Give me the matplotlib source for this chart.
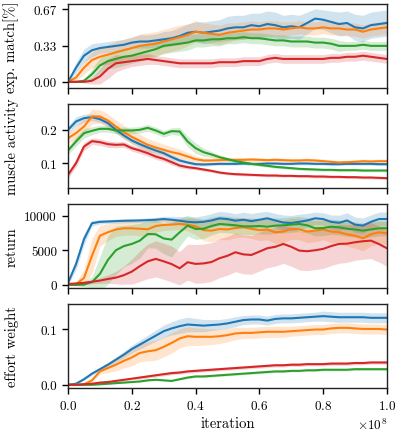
import numpy as np
import matplotlib
matplotlib.use('Agg')
import matplotlib.pyplot as plt

plt.rcParams['font.family'] = 'cmr10'
plt.rcParams['mathtext.fontset'] = 'cm'
plt.rcParams['axes.formatter.use_mathtext'] = True
plt.rcParams['font.size'] = 10.5
plt.rcParams['axes.unicode_minus'] = False

# iteration (x 1e8)
iters = np.linspace(0, 1e8, 41)

# exp. match
match_blue = [0.0, 0.13, 0.24, 0.29, 0.31, 0.32, 0.33, 0.34, 0.36, 0.37, 0.37, 0.38, 0.39, 0.40, 0.42, 0.45, 0.46, 0.45, 0.46, 0.47, 0.49,
              0.50, 0.50, 0.52, 0.51, 0.53, 0.52, 0.50, 0.51, 0.50, 0.54, 0.58, 0.57, 0.55, 0.53, 0.54, 0.50, 0.49, 0.52, 0.53, 0.54]
match_orange = [0.0, 0.04, 0.13, 0.20, 0.23, 0.25, 0.27, 0.29, 0.31, 0.33, 0.34, 0.35, 0.37, 0.39, 0.41, 0.43, 0.46, 0.45, 0.44, 0.43, 0.45,
                0.46, 0.47, 0.48, 0.48, 0.49, 0.49, 0.48, 0.49, 0.50, 0.49, 0.49, 0.50, 0.49, 0.49, 0.48, 0.48, 0.46, 0.48, 0.49, 0.50]
match_green = [0.0, 0.0, 0.01, 0.07, 0.15, 0.19, 0.21, 0.23, 0.24, 0.26, 0.28, 0.30, 0.33, 0.34, 0.35, 0.36, 0.38, 0.38, 0.39, 0.39, 0.40,
               0.40, 0.41, 0.40, 0.40, 0.39, 0.38, 0.38, 0.37, 0.37, 0.37, 0.36, 0.36, 0.35, 0.33, 0.33, 0.33, 0.34, 0.33, 0.33, 0.33]
match_red = [0.0, 0.0, 0.0, 0.01, 0.05, 0.12, 0.17, 0.18, 0.19, 0.20, 0.21, 0.20, 0.19, 0.18, 0.17, 0.17, 0.17, 0.17, 0.17, 0.18, 0.18,
             0.18, 0.19, 0.19, 0.19, 0.21, 0.22, 0.21, 0.21, 0.21, 0.21, 0.21, 0.21, 0.22, 0.22, 0.23, 0.23, 0.24, 0.23, 0.22, 0.21]
match_blue_sd = [0.0, 0.05, 0.06, 0.06, 0.05, 0.05, 0.05, 0.05, 0.05, 0.06, 0.06, 0.06, 0.07, 0.07, 0.08, 0.08, 0.09, 0.10, 0.10, 0.10, 0.11,
                 0.11, 0.11, 0.11, 0.12, 0.12, 0.12, 0.11, 0.11, 0.11, 0.10, 0.09, 0.09, 0.10, 0.11, 0.11, 0.12, 0.12, 0.12, 0.12, 0.12]
match_orange_sd = [0.0, 0.03, 0.06, 0.07, 0.08, 0.09, 0.10, 0.10, 0.10, 0.11, 0.11, 0.11, 0.11, 0.11, 0.11, 0.10, 0.10, 0.09, 0.09, 0.09, 0.09,
                   0.08, 0.08, 0.08, 0.07, 0.07, 0.07, 0.07, 0.06, 0.06, 0.06, 0.06, 0.06, 0.06, 0.06, 0.06, 0.06, 0.06, 0.06, 0.06, 0.06]
match_green_sd = [0.0, 0.0, 0.01, 0.05, 0.07, 0.07, 0.08, 0.08, 0.07, 0.07, 0.07, 0.07, 0.07, 0.07, 0.07, 0.07, 0.06, 0.06, 0.06, 0.06, 0.05,
                  0.05, 0.05, 0.05, 0.05, 0.05, 0.05, 0.05, 0.05, 0.05, 0.05, 0.05, 0.05, 0.05, 0.05, 0.04, 0.04, 0.04, 0.04, 0.04, 0.04]
match_red_sd = [0.0, 0.0, 0.01, 0.03, 0.07, 0.09, 0.08, 0.06, 0.05, 0.05, 0.05, 0.04, 0.04, 0.04, 0.04, 0.04, 0.04, 0.04, 0.04, 0.04, 0.04,
                0.04, 0.04, 0.04, 0.04, 0.04, 0.04, 0.04, 0.04, 0.04, 0.04, 0.04, 0.04, 0.04, 0.04, 0.04, 0.04, 0.04, 0.04, 0.04, 0.04]

# muscle activity
act_blue = [0.200, 0.225, 0.235, 0.238, 0.232, 0.220, 0.200, 0.183, 0.168, 0.157, 0.147, 0.138, 0.130, 0.118, 0.108, 0.102, 0.097, 0.096, 0.097, 0.098, 0.098,
            0.098, 0.099, 0.098, 0.098, 0.099, 0.099, 0.098, 0.098, 0.099, 0.099, 0.098, 0.098, 0.097, 0.097, 0.098, 0.098, 0.098, 0.098, 0.097, 0.097]
act_orange = [0.175, 0.190, 0.210, 0.240, 0.240, 0.228, 0.210, 0.193, 0.179, 0.167, 0.155, 0.147, 0.140, 0.133, 0.128, 0.120, 0.112, 0.108, 0.108, 0.109, 0.110,
              0.110, 0.110, 0.111, 0.110, 0.109, 0.110, 0.109, 0.108, 0.108, 0.109, 0.108, 0.106, 0.104, 0.102, 0.103, 0.104, 0.106, 0.105, 0.106, 0.106]
act_green = [0.138, 0.165, 0.190, 0.197, 0.203, 0.203, 0.198, 0.198, 0.198, 0.200, 0.206, 0.198, 0.188, 0.196, 0.195, 0.165, 0.145, 0.133, 0.126, 0.118, 0.112,
             0.106, 0.102, 0.098, 0.095, 0.092, 0.089, 0.087, 0.085, 0.083, 0.082, 0.081, 0.080, 0.080, 0.079, 0.079, 0.079, 0.078, 0.078, 0.078, 0.078]
act_red = [0.065, 0.100, 0.150, 0.166, 0.163, 0.157, 0.155, 0.156, 0.145, 0.138, 0.130, 0.120, 0.113, 0.103, 0.093, 0.088, 0.085, 0.081, 0.077, 0.072, 0.069,
           0.067, 0.066, 0.065, 0.064, 0.063, 0.063, 0.062, 0.062, 0.061, 0.061, 0.060, 0.060, 0.059, 0.059, 0.058, 0.058, 0.057, 0.057, 0.056, 0.055]
act_blue_sd = [0.012, 0.014, 0.012, 0.010, 0.010, 0.010, 0.010, 0.010, 0.010, 0.010, 0.009, 0.009, 0.008, 0.008, 0.007, 0.006, 0.005, 0.005, 0.004, 0.004, 0.004,
               0.004, 0.004, 0.004, 0.004, 0.004, 0.004, 0.004, 0.004, 0.004, 0.004, 0.004, 0.004, 0.004, 0.004, 0.004, 0.004, 0.004, 0.004, 0.004, 0.004]
act_orange_sd = [0.015, 0.020, 0.025, 0.022, 0.020, 0.020, 0.020, 0.020, 0.020, 0.020, 0.019, 0.018, 0.017, 0.016, 0.014, 0.012, 0.010, 0.008, 0.007, 0.007, 0.006,
                 0.006, 0.006, 0.006, 0.006, 0.006, 0.006, 0.006, 0.006, 0.006, 0.006, 0.006, 0.006, 0.006, 0.006, 0.006, 0.006, 0.006, 0.006, 0.006, 0.006]
act_green_sd = [0.012, 0.014, 0.014, 0.012, 0.010, 0.010, 0.010, 0.010, 0.010, 0.010, 0.010, 0.010, 0.010, 0.010, 0.012, 0.016, 0.016, 0.012, 0.009, 0.007, 0.006,
                0.005, 0.005, 0.004, 0.004, 0.004, 0.004, 0.004, 0.004, 0.004, 0.004, 0.004, 0.004, 0.004, 0.004, 0.004, 0.004, 0.004, 0.004, 0.004, 0.004]
act_red_sd = [0.010, 0.012, 0.012, 0.010, 0.010, 0.010, 0.009, 0.009, 0.009, 0.009, 0.009, 0.009, 0.008, 0.008, 0.007, 0.006, 0.005, 0.005, 0.004, 0.004, 0.004,
              0.004, 0.004, 0.004, 0.004, 0.004, 0.004, 0.004, 0.004, 0.004, 0.004, 0.004, 0.004, 0.004, 0.004, 0.004, 0.004, 0.004, 0.004, 0.004, 0.004]

# return
ret_blue = [300, 3000, 6600, 8900, 9100, 9150, 9200, 9250, 9270, 9300, 9350, 9400, 9500, 9400, 9270, 9100, 9030, 9100, 9300, 9600, 9500,
            9270, 9400, 9200, 9400, 9610, 9300, 9000, 8930, 9100, 9300, 9610, 9500, 9100, 8960, 9300, 8700, 8550, 9100, 9500, 9510]
ret_orange = [0, 100, 1000, 4200, 7100, 7600, 8000, 8170, 8170, 8100, 8020, 8500, 8650, 8700, 8790, 8700, 8450, 7900, 7830, 8070, 8000,
              8200, 8310, 8100, 7900, 8000, 7590, 7700, 8100, 8020, 7700, 7830, 8000, 7700, 7590, 7300, 7100, 6730, 7300, 7590, 7450]
ret_green = [0, 0, 50, 400, 1590, 3600, 5000, 5600, 5910, 6380, 7350, 7300, 6700, 6530, 7590, 8550, 8070, 8100, 8500, 8790, 8700,
             8600, 8450, 8450, 8500, 8400, 8550, 8600, 8700, 8790, 8600, 8170, 8200, 8400, 8310, 8100, 8000, 7830, 8000, 8170, 8170]
ret_red = [150, 200, 300, 450, 620, 850, 1050, 1400, 1920, 2700, 3400, 3750, 3400, 3000, 2400, 3270, 3030, 3100, 3300, 3850, 4200,
           4710, 4400, 4320, 4800, 5290, 5500, 5910, 5500, 4950, 4860, 5000, 5190, 5600, 5910, 5950, 6150, 6300, 6390, 5900, 5290]
ret_blue_sd = [300, 800, 800, 400, 300, 300, 300, 300, 300, 300, 300, 350, 400, 500, 600, 700, 800, 900, 1000, 1000, 1000,
               1000, 1100, 1100, 1100, 1000, 1000, 1100, 1100, 1100, 1000, 900, 900, 1000, 1100, 1100, 1100, 1100, 1000, 1000, 1000]
ret_orange_sd = [0, 300, 1200, 2500, 1500, 1200, 1000, 1000, 1000, 1000, 1000, 900, 800, 800, 800, 900, 1200, 1500, 1600, 1500, 1500,
                 1400, 1400, 1400, 1500, 1500, 1600, 1600, 1500, 1500, 1600, 1600, 1500, 1600, 1600, 1700, 1800, 1800, 1700, 1600, 1600]
ret_green_sd = [0, 0, 300, 800, 2500, 3500, 3500, 3000, 2800, 2500, 2000, 2000, 2200, 2500, 2000, 1500, 1500, 1400, 1300, 1200, 1200,
                1200, 1200, 1200, 1100, 1100, 1100, 1100, 1100, 1100, 1100, 1100, 1100, 1100, 1100, 1100, 1100, 1100, 1100, 1100, 1100]
ret_red_sd = [150, 200, 250, 300, 400, 600, 900, 1300, 1800, 2200, 2500, 2600, 2600, 2600, 2400, 2600, 2800, 2800, 2800, 2800, 2800,
              2800, 2800, 2800, 2800, 2800, 2800, 2800, 2800, 2800, 2800, 2800, 2800, 2800, 2800, 2700, 2600, 2600, 2600, 2600, 2600]

# effort weight
eff_blue = [0.0, 0.002, 0.010, 0.020, 0.028, 0.036, 0.045, 0.054, 0.064, 0.072, 0.080, 0.088, 0.096, 0.101, 0.105, 0.108, 0.107, 0.106, 0.107, 0.108, 0.110,
            0.113, 0.116, 0.117, 0.117, 0.115, 0.118, 0.119, 0.119, 0.120, 0.121, 0.122, 0.123, 0.122, 0.121, 0.121, 0.121, 0.121, 0.120, 0.120, 0.120]
eff_orange = [0.0, 0.0, 0.001, 0.008, 0.024, 0.030, 0.036, 0.043, 0.049, 0.057, 0.060, 0.062, 0.068, 0.075, 0.083, 0.087, 0.086, 0.086, 0.086, 0.087, 0.089,
              0.092, 0.093, 0.093, 0.094, 0.095, 0.095, 0.095, 0.096, 0.097, 0.098, 0.099, 0.099, 0.101, 0.102, 0.102, 0.101, 0.100, 0.100, 0.100, 0.099]
eff_green = [0.0, 0.0, 0.0, 0.0, 0.001, 0.002, 0.003, 0.004, 0.005, 0.006, 0.008, 0.009, 0.008, 0.007, 0.010, 0.013, 0.015, 0.015, 0.016, 0.017, 0.018,
             0.019, 0.020, 0.021, 0.022, 0.023, 0.024, 0.024, 0.025, 0.025, 0.026, 0.026, 0.027, 0.027, 0.027, 0.027, 0.028, 0.028, 0.028, 0.028, 0.028]
eff_red = [0.0, 0.0, 0.001, 0.002, 0.004, 0.005, 0.007, 0.009, 0.011, 0.013, 0.015, 0.017, 0.019, 0.021, 0.022, 0.024, 0.025, 0.026, 0.027, 0.028, 0.029,
           0.030, 0.031, 0.032, 0.033, 0.034, 0.035, 0.035, 0.036, 0.036, 0.037, 0.037, 0.037, 0.038, 0.038, 0.038, 0.039, 0.039, 0.040, 0.040, 0.040]
eff_blue_sd = [0.0, 0.001, 0.002, 0.003, 0.003, 0.004, 0.005, 0.006, 0.007, 0.008, 0.009, 0.010, 0.011, 0.012, 0.013, 0.013, 0.012, 0.011, 0.010, 0.009, 0.009,
               0.009, 0.008, 0.008, 0.008, 0.008, 0.008, 0.008, 0.008, 0.008, 0.008, 0.008, 0.009, 0.009, 0.009, 0.009, 0.009, 0.009, 0.009, 0.009, 0.009]
eff_orange_sd = [0.0, 0.0, 0.001, 0.003, 0.005, 0.008, 0.011, 0.013, 0.015, 0.016, 0.017, 0.018, 0.018, 0.018, 0.017, 0.017, 0.016, 0.015, 0.014, 0.013, 0.012,
                 0.011, 0.010, 0.010, 0.010, 0.010, 0.010, 0.010, 0.009, 0.009, 0.009, 0.009, 0.009, 0.009, 0.009, 0.009, 0.009, 0.009, 0.009, 0.009, 0.009]
eff_green_sd = [0.0, 0.0, 0.0, 0.0, 0.001, 0.001, 0.001, 0.001, 0.001, 0.001, 0.001, 0.001, 0.001, 0.001, 0.001, 0.002, 0.002, 0.002, 0.002, 0.002, 0.002,
                0.002, 0.002, 0.002, 0.002, 0.002, 0.002, 0.002, 0.002, 0.002, 0.002, 0.002, 0.002, 0.002, 0.002, 0.002, 0.002, 0.002, 0.002, 0.002, 0.002]
eff_red_sd = [0.0, 0.0, 0.001, 0.001, 0.002, 0.002, 0.002, 0.002, 0.002, 0.003, 0.003, 0.003, 0.003, 0.003, 0.003, 0.003, 0.003, 0.003, 0.003, 0.003, 0.003,
              0.003, 0.003, 0.003, 0.003, 0.003, 0.003, 0.003, 0.003, 0.003, 0.003, 0.003, 0.003, 0.003, 0.003, 0.003, 0.003, 0.003, 0.003, 0.003, 0.003]

colors = ['tab:blue', 'tab:orange', 'tab:green', 'tab:red']

panels = [
    ('exp. match[%]', [match_blue, match_orange, match_green, match_red],
     [match_blue_sd, match_orange_sd, match_green_sd, match_red_sd],
     [0, 1/3, 2/3], ['0.00', '0.33', '0.67'], (-0.055, 0.716)),
    ('muscle activity', [act_blue, act_orange, act_green, act_red],
     [act_blue_sd, act_orange_sd, act_green_sd, act_red_sd],
     [0.1, 0.2], ['0.1', '0.2'], (0.026, 0.278)),
    ('return', [ret_blue, ret_orange, ret_green, ret_red],
     [ret_blue_sd, ret_orange_sd, ret_green_sd, ret_red_sd],
     [0, 5000, 10000], ['0', '5000', '10000'], (-430, 11700)),
    ('effort weight', [eff_blue, eff_orange, eff_green, eff_red],
     [eff_blue_sd, eff_orange_sd, eff_green_sd, eff_red_sd],
     [0.0, 0.1], ['0.0', '0.1'], (-0.0055, 0.145)),
]

fig, axes = plt.subplots(4, 1, figsize=(3.98, 4.35), dpi=100, sharex=True)
fig.subplots_adjust(left=0.171, right=0.972, top=0.989, bottom=0.106, hspace=0.19)

for ax, (label, means, sds, ticks, ticklabels, ylim) in zip(axes, panels):
    for m, s, c in zip(means, sds, colors):
        m = np.array(m)
        s = np.array(s)
        ax.fill_between(iters, m - s, m + s, color=c, alpha=0.2, lw=0)
        ax.plot(iters, m, color=c, lw=1.5)
    ax.set_ylabel(label, labelpad=4)
    ax.set_yticks(ticks)
    ax.set_yticklabels(ticklabels)
    ax.set_ylim(*ylim)
    ax.set_xlim(0, 1e8)
    for sp in ax.spines.values():
        sp.set_color('#222222')
        sp.set_linewidth(1.0)
    ax.tick_params(length=4.5, width=1.0, pad=3.5, labelsize=9.5)

axes[-1].set_xticks([0, 0.2e8, 0.4e8, 0.6e8, 0.8e8, 1e8])
axes[-1].set_xlabel('iteration', labelpad=3)
axes[-1].xaxis.get_offset_text().set_fontsize(9.5)
fig.align_ylabels(axes)

fig.savefig('out.png', dpi=100)
